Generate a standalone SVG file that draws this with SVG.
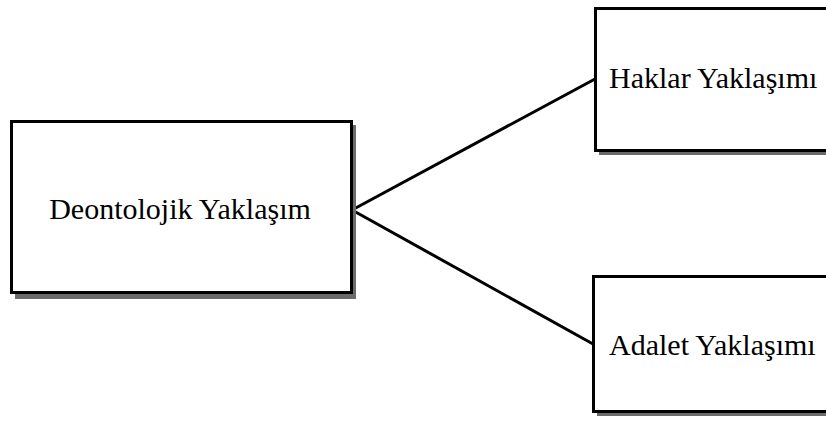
<svg xmlns="http://www.w3.org/2000/svg" width="826" height="421" viewBox="0 0 826 421">
<style>
.shadow{fill:#6b6b6b;stroke:none}
.box{fill:#fff;stroke:#000;stroke-width:3}
.lbl{font-family:"Liberation Serif","Times New Roman",serif;font-size:30px;fill:#000}
.conn{stroke:#000;stroke-width:3;fill:none}
</style>
<rect width="826" height="421" fill="#fff"/>
<g id="connectors">
<line class="conn" x1="352" y1="210" x2="595" y2="79"/>
<line class="conn" x1="352" y1="210" x2="593" y2="344"/>
</g>
<g id="node-deontolojik">
<rect class="shadow" x="15" y="125" width="341" height="174"/>
<rect class="box" x="11.5" y="121.5" width="340" height="171"/>
<text class="lbl" x="180" y="219" text-anchor="middle">Deontolojik Yaklaşım</text>
</g>
<g id="node-haklar">
<rect class="shadow" x="599" y="12" width="240" height="143"/>
<rect class="box" x="595.5" y="8.5" width="240" height="142"/>
<text class="lbl" x="609" y="88">Haklar Yaklaşımı</text>
</g>
<g id="node-adalet">
<rect class="shadow" x="597" y="280" width="240" height="136"/>
<rect class="box" x="593.5" y="276.5" width="240" height="135"/>
<text class="lbl" x="609" y="355">Adalet Yaklaşımı</text>
</g>
</svg>
